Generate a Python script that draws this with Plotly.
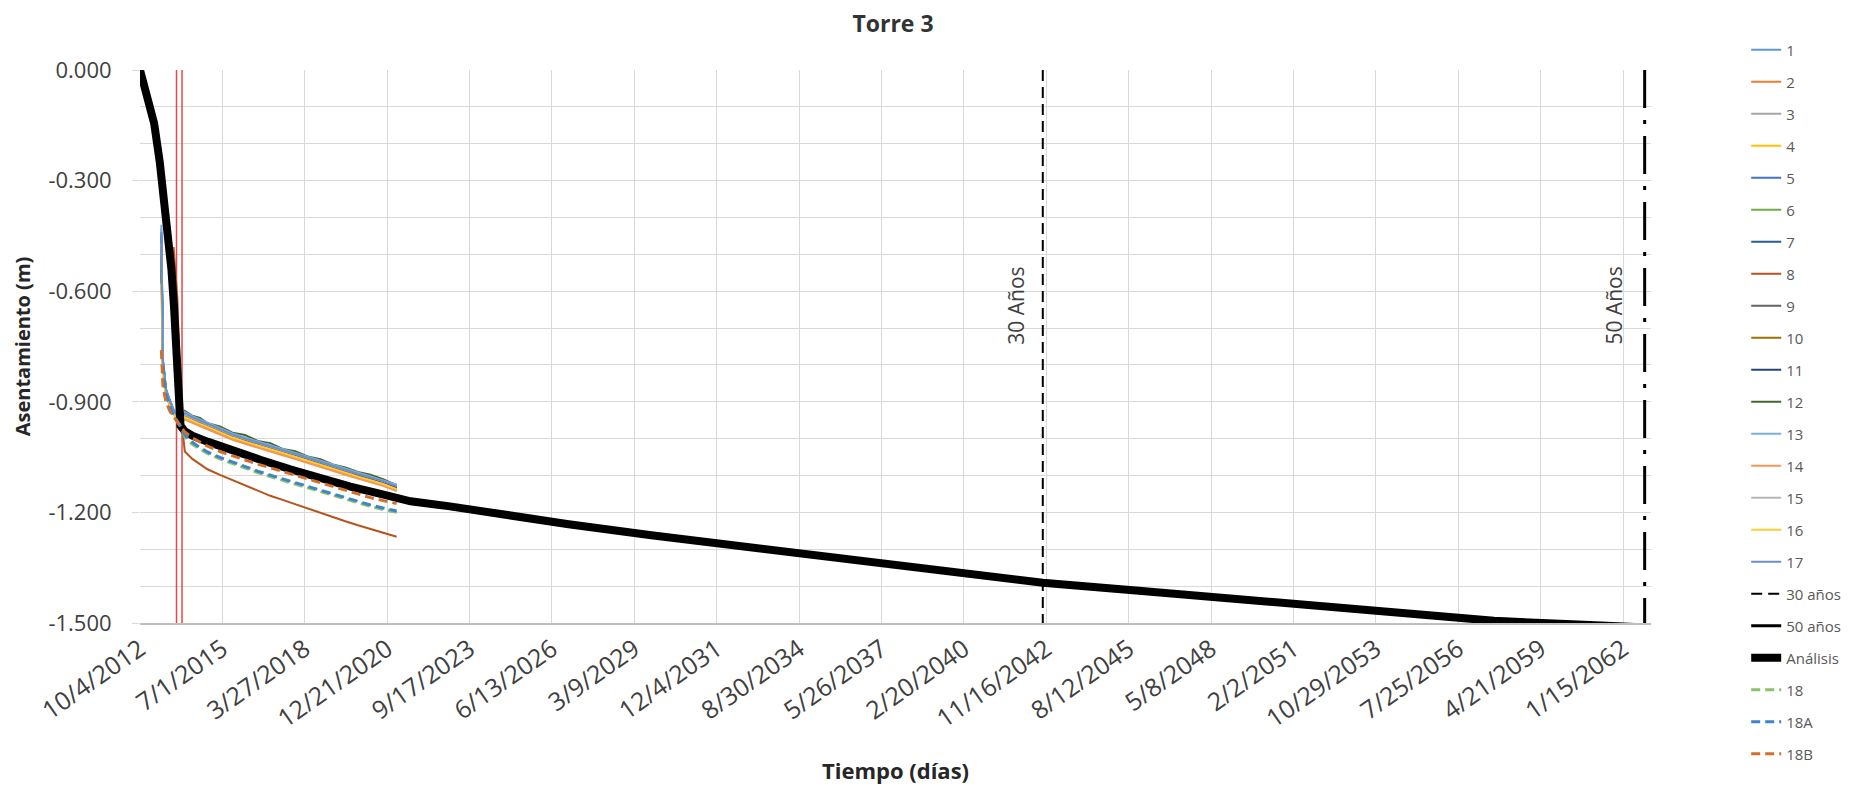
import plotly.graph_objects as go

# ---------------- data ----------------
tick_dates = ["2012-10-04", "2015-07-01", "2018-03-27", "2020-12-21", "2023-09-17",
              "2026-06-13", "2029-03-09", "2031-12-04", "2034-08-30", "2037-05-26",
              "2040-02-20", "2042-11-16", "2045-08-12", "2048-05-08", "2051-02-02",
              "2053-10-29", "2056-07-25", "2059-04-21", "2062-01-15"]
tick_labels = ["10/4/2012", "7/1/2015", "3/27/2018", "12/21/2020", "9/17/2023",
               "6/13/2026", "3/9/2029", "12/4/2031", "8/30/2034", "5/26/2037",
               "2/20/2040", "11/16/2042", "8/12/2045", "5/8/2048", "2/2/2051",
               "10/29/2053", "7/25/2056", "4/21/2059", "1/15/2062"]

y_ticks = [0.0, -0.3, -0.6, -0.9, -1.2, -1.5]
y_labels = ["0.000", "-0.300", "-0.600", "-0.900", "-1.200", "-1.500"]
y2_ticks = [0.8, 0.5, 0.2, -0.1, -0.4, -0.7]
y2_labels = ["0.8", "0.5", "0.2", "-0.1", "-0.4", "-0.7"]

# measurement dates (shared by series 1..18B)
meas_dates = ["2013-06-20", "2013-07-10", "2013-08-15", "2013-10-01", "2013-11-15",
              "2014-01-01", "2014-02-10", "2014-04-01", "2014-07-01", "2014-10-01",
              "2015-01-01", "2015-06-01", "2015-11-01", "2016-04-01", "2016-09-01",
              "2017-02-01", "2017-07-01", "2017-12-01", "2018-05-01", "2018-10-01",
              "2019-03-01", "2019-08-01", "2020-01-01", "2020-06-01", "2020-11-01",
              "2021-04-15"]

s1 = [-0.43, -0.79, -0.868, -0.900, -0.922, -0.940, -0.948, -0.932, -0.943, -0.951, -0.962, -0.975, -0.988, -1.000, -1.009, -1.022, -1.030, -1.042, -1.050, -1.063, -1.072, -1.085, -1.094, -1.104, -1.115, -1.128]
s2 = [None, -0.82, -0.880, -0.905, -0.930, -0.948, -0.955, -0.945, -0.955, -0.963, -0.972, -0.987, -1.000, -1.012, -1.022, -1.033, -1.043, -1.053, -1.064, -1.075, -1.086, -1.096, -1.106, -1.116, -1.126, -1.140]
s3 = [-0.47, -0.80, -0.872, -0.902, -0.925, -0.943, -0.950, -0.936, -0.946, -0.955, -0.964, -0.979, -0.992, -1.003, -1.014, -1.025, -1.034, -1.045, -1.055, -1.066, -1.077, -1.088, -1.098, -1.108, -1.118, -1.130]
s4 = [-0.55, -0.82, -0.878, -0.906, -0.928, -0.945, -0.952, -0.940, -0.950, -0.958, -0.966, -0.981, -0.995, -1.006, -1.017, -1.027, -1.037, -1.047, -1.058, -1.069, -1.080, -1.091, -1.100, -1.110, -1.121, -1.135]
s5 = [-0.44, -0.79, -0.866, -0.898, -0.922, -0.940, -0.947, -0.933, -0.944, -0.953, -0.961, -0.976, -0.990, -1.001, -1.012, -1.022, -1.032, -1.042, -1.053, -1.064, -1.075, -1.086, -1.096, -1.106, -1.116, -1.130]
s6 = [-0.50, -0.81, -0.875, -0.905, -0.927, -0.944, -0.951, -0.930, -0.940, -0.950, -0.958, -0.973, -0.987, -0.998, -1.009, -1.019, -1.029, -1.040, -1.050, -1.061, -1.073, -1.084, -1.094, -1.104, -1.114, -1.128]
s7 = [-0.46, -0.80, -0.870, -0.901, -0.924, -0.942, -0.949, -0.935, -0.946, -0.955, -0.963, -0.978, -0.992, -1.004, -1.015, -1.025, -1.035, -1.045, -1.056, -1.067, -1.078, -1.089, -1.099, -1.109, -1.120, -1.133]
s8 = [None, None, None, None, -0.48, -0.62, -0.930, -1.035, -1.055, -1.070, -1.083, -1.098, -1.112, -1.127, -1.142, -1.155, -1.166, -1.178, -1.190, -1.202, -1.213, -1.224, -1.235, -1.245, -1.255, -1.266]
s9 = [-0.48, -0.80, -0.872, -0.903, -0.926, -0.943, -0.950, -0.938, -0.948, -0.957, -0.965, -0.980, -0.994, -1.005, -1.016, -1.026, -1.036, -1.046, -1.057, -1.068, -1.079, -1.090, -1.100, -1.110, -1.120, -1.134]
s10 = [-0.52, -0.81, -0.876, -0.906, -0.928, -0.945, -0.952, -0.940, -0.950, -0.959, -0.967, -0.982, -0.996, -1.007, -1.018, -1.028, -1.038, -1.048, -1.059, -1.070, -1.081, -1.092, -1.102, -1.112, -1.122, -1.136]
s11 = [-0.45, -0.795, -0.868, -0.900, -0.923, -0.941, -0.948, -0.934, -0.945, -0.954, -0.962, -0.977, -0.991, -1.002, -1.013, -1.023, -1.033, -1.044, -1.054, -1.065, -1.076, -1.087, -1.097, -1.107, -1.117, -1.131]
s12 = [-0.49, -0.80, -0.870, -0.900, -0.922, -0.940, -0.946, -0.925, -0.938, -0.944, -0.958, -0.967, -0.984, -0.990, -1.006, -1.012, -1.028, -1.034, -1.048, -1.056, -1.070, -1.078, -1.090, -1.098, -1.110, -1.126]
s13 = [-0.42, -0.785, -0.865, -0.897, -0.920, -0.938, -0.945, -0.928, -0.939, -0.948, -0.957, -0.972, -0.986, -0.997, -1.008, -1.018, -1.028, -1.039, -1.049, -1.060, -1.071, -1.082, -1.092, -1.102, -1.113, -1.125]
s14 = [None, -0.83, -0.885, -0.910, -0.932, -0.950, -0.957, -0.948, -0.958, -0.966, -0.975, -0.990, -1.003, -1.014, -1.025, -1.035, -1.045, -1.055, -1.066, -1.077, -1.088, -1.098, -1.108, -1.118, -1.128, -1.142]
s15 = [-0.47, -0.80, -0.871, -0.902, -0.925, -0.942, -0.949, -0.934, -0.944, -0.953, -0.962, -0.977, -0.990, -1.001, -1.012, -1.022, -1.032, -1.042, -1.053, -1.064, -1.075, -1.085, -1.095, -1.105, -1.115, -1.128]
s16 = [-0.58, -0.83, -0.880, -0.907, -0.929, -0.946, -0.953, -0.942, -0.952, -0.960, -0.968, -0.983, -0.997, -1.008, -1.019, -1.029, -1.039, -1.049, -1.060, -1.071, -1.082, -1.093, -1.103, -1.113, -1.123, -1.137]
s17 = [-0.44, -0.79, -0.867, -0.899, -0.922, -0.940, -0.947, -0.931, -0.942, -0.951, -0.960, -0.975, -0.989, -1.000, -1.011, -1.021, -1.031, -1.041, -1.052, -1.063, -1.074, -1.085, -1.095, -1.105, -1.115, -1.129]
s18 = [None, -0.80, -0.880, -0.915, -0.938, -0.955, -0.968, -0.995, -1.015, -1.028, -1.040, -1.055, -1.068, -1.080, -1.092, -1.103, -1.113, -1.123, -1.133, -1.144, -1.155, -1.165, -1.175, -1.184, -1.192, -1.200]
s18a = [None, -0.80, -0.878, -0.913, -0.936, -0.953, -0.966, -0.990, -1.010, -1.024, -1.036, -1.051, -1.064, -1.076, -1.088, -1.099, -1.109, -1.119, -1.130, -1.141, -1.151, -1.161, -1.171, -1.180, -1.188, -1.196]
s18b = [-0.76, -0.86, -0.900, -0.925, -0.940, -0.955, -0.965, -0.982, -0.998, -1.010, -1.020, -1.035, -1.047, -1.058, -1.069, -1.079, -1.089, -1.099, -1.109, -1.120, -1.131, -1.141, -1.151, -1.160, -1.168, -1.176]

# analysis (prediction) curve
ana_dates = ["2012-10-04", "2013-01-01", "2013-03-25", "2013-06-01", "2013-07-15",
             "2013-08-20", "2013-09-20", "2013-10-20", "2013-11-20", "2013-12-20",
             "2014-01-15", "2014-01-30", "2014-02-08", "2014-04-01", "2014-07-01",
             "2015-01-01", "2015-10-01", "2016-10-01", "2017-10-01", "2018-10-01",
             "2019-10-01", "2020-10-01", "2021-10-01", "2023-01-01", "2024-10-01",
             "2027-01-01", "2029-10-01", "2032-10-01", "2035-10-01", "2038-10-01",
             "2042-10-04", "2045-10-01", "2048-10-01", "2051-10-01", "2054-10-01",
             "2057-10-01", "2060-10-01", "2062-10-04"]
ana_vals = [0.000, -0.070, -0.145, -0.250, -0.330, -0.390, -0.450, -0.540, -0.640, -0.740,
            -0.840, -0.930, -0.965, -0.980, -0.992, -1.008, -1.030, -1.057, -1.083, -1.108,
            -1.130, -1.150, -1.170, -1.183, -1.205, -1.232, -1.262, -1.293, -1.322, -1.352,
            -1.391, -1.411, -1.432, -1.452, -1.473, -1.494, -1.505, -1.512]

date_30 = "2042-10-04"
date_50 = "2062-10-04"
red_dates = ["2013-12-21", "2014-02-26"]
vline_y = [0.0, -1.5]

series = [
    ("1", s1, "#5B9BD5"), ("2", s2, "#ED7D31"), ("3", s3, "#A5A5A5"),
    ("4", s4, "#FFC000"), ("5", s5, "#4472C4"), ("6", s6, "#70AD47"),
    ("7", s7, "#255E91"), ("8", s8, "#B5541C"), ("9", s9, "#636363"),
    ("10", s10, "#997300"), ("11", s11, "#264478"), ("12", s12, "#43682B"),
    ("13", s13, "#7CAFDD"), ("14", s14, "#F1975A"), ("15", s15, "#B7B7B7"),
    ("16", s16, "#FFCD33"), ("17", s17, "#698ED0"),
]
dashed = [("18", s18, "#8CC168"), ("18A", s18a, "#3C84CC"), ("18B", s18b, "#D26F2B")]

# ---------------- figure ----------------
fig = go.Figure()

for d in red_dates:
    fig.add_trace(go.Scatter(x=[d, d], y=vline_y, mode="lines",
                             line=dict(color="#E8474A", width=1.5),
                             showlegend=False, hoverinfo="skip"))

rank = 1
for name, vals, col in series:
    fig.add_trace(go.Scatter(x=meas_dates, y=vals, name=name, mode="lines",
                             line=dict(color=col, width=2), legendgroup=name,
                             legendrank=rank))
    rank += 1

fig.add_trace(go.Scatter(x=[date_30, date_30], y=vline_y, name="30 años", mode="lines",
                         line=dict(color="black", width=2, dash="11px,6px"),
                         legendgroup="30", legendrank=rank))
rank += 1
fig.add_trace(go.Scatter(x=[date_50, date_50], y=vline_y, name="50 años", mode="lines",
                         line=dict(color="black", width=3, dash="38px,12px,4px,12px"),
                         legendgroup="50", legendrank=rank))
rank += 1
fig.add_trace(go.Scatter(x=ana_dates, y=ana_vals, name="Análisis", mode="lines",
                         line=dict(color="black", width=8), legendgroup="ana",
                         legendrank=rank))
rank += 1
for name, vals, col in dashed:
    fig.add_trace(go.Scatter(x=meas_dates, y=vals, name=name, mode="lines",
                             line=dict(color=col, width=3, dash="9px,5px"),
                             legendgroup=name, legendrank=rank))
    rank += 1

grid = "#D9D9D9"
# note: the page body adds an 8px offset, margins compensate for it
fig.update_layout(
    width=1862, height=786,
    margin=dict(l=132, r=219, t=62, b=171, autoexpand=False),
    paper_bgcolor="white", plot_bgcolor="white",
    font=dict(family="Open Sans", color="#404040"),
    title=dict(text="<b>Torre 3</b>", xref="container", x=0.4753, xanchor="center",
               yref="container", y=0.9796, yanchor="middle",
               font=dict(size=23, color="#333333")),
    xaxis=dict(type="date", range=["2012-10-04", "2062-12-20"], automargin=False,
               tickmode="array", tickvals=tick_dates, ticktext=tick_labels,
               tickangle=-35, tickfont=dict(size=25, color="#404040"),
               showgrid=True, gridcolor=grid, gridwidth=1,
               showline=True, linecolor="#BFBFBF", linewidth=1.5,
               ticks="", zeroline=False,
               title=dict(text="<b>Tiempo (días)</b>", font=dict(size=22, color="#262626"),
                          standoff=30)),
    yaxis=dict(range=[-1.5, 0.0], automargin=False, tickmode="array",
               tickvals=y_ticks, ticktext=y_labels,
               tickfont=dict(size=22, color="#404040"), ticklabelstandoff=16,
               showgrid=True, gridcolor=grid, gridwidth=1,
               minor=dict(dtick=0.1, tick0=0, showgrid=True, gridcolor=grid, gridwidth=1),
               ticks="outside", ticklen=7, tickcolor=grid,
               zeroline=False, showline=False,
               title=dict(text="<b>Asentamiento (m)</b>", font=dict(size=20, color="#262626"),
                          standoff=12)),
    yaxis2=dict(overlaying="y", side="right", range=[-0.7, 0.8], automargin=False,
                tickmode="array", tickvals=y2_ticks, ticktext=y2_labels,
                tickfont=dict(size=22, color="#404040"), ticklabelstandoff=14,
                showgrid=False, zeroline=False, ticks="outside", ticklen=7,
                tickcolor=grid, showline=True, linecolor=grid, linewidth=1),
    legend=dict(x=1.063, xanchor="left", yref="container", y=0.9675, yanchor="top",
                traceorder="grouped", tracegroupgap=9.5, maxheight=1.0,
                font=dict(size=15, color="#595959"), bgcolor="rgba(0,0,0,0)"),
    showlegend=True,
)

fig.add_annotation(x=date_30, y=-0.64, xref="x", yref="y", text="30 Años",
                   textangle=-90, showarrow=False, xshift=-27,
                   font=dict(size=21, color="#404040"))
fig.add_annotation(x=date_50, y=-0.64, xref="x", yref="y", text="50 Años",
                   textangle=-90, showarrow=False, xshift=-31,
                   font=dict(size=21, color="#404040"))

fig.write_html("out.html")
